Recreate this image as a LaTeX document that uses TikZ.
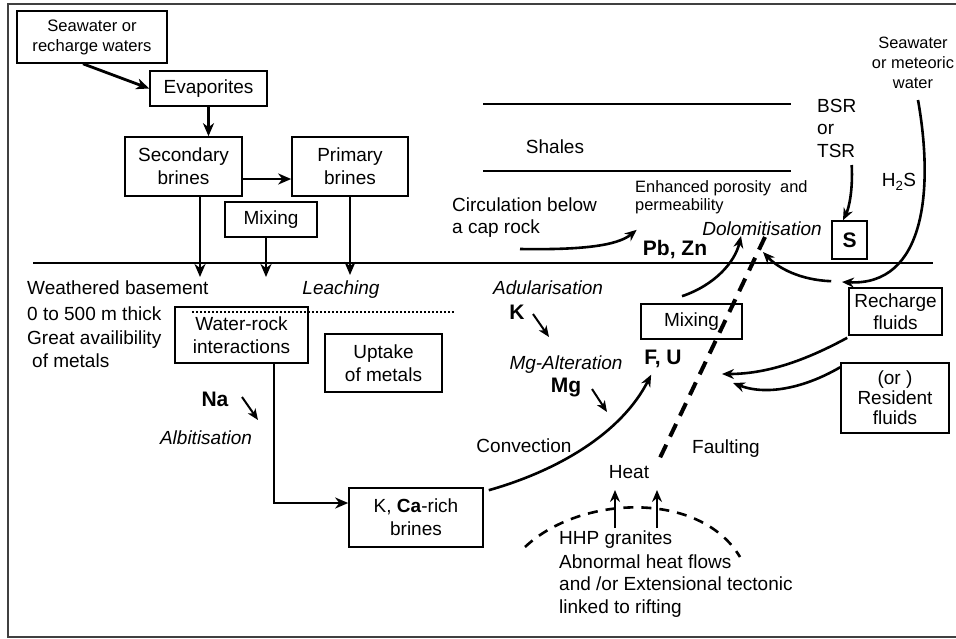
\documentclass[tikz,border=0pt]{standalone}
\usepackage{fontspec}
\setmainfont{Liberation Sans}
\usetikzlibrary{arrows.meta}
\newcommand\fsz[2]{\fontsize{#1}{#2}\selectfont}
\begin{document}
\begin{tikzpicture}[x=1pt,y=-1pt,
 box/.style={draw, line width=1.6pt, inner sep=0pt, align=center, font=\fsz{19}{23}},
 lbl/.style={inner sep=0pt, font=\fsz{19}{23}, text height=13.6pt, text depth=0pt},
 sml/.style={inner sep=0pt, font=\fsz{16.4}{20}, text height=11.8pt, text depth=0pt},
 bld/.style={inner sep=0pt, font=\fsz{21}{25}\bfseries, text height=15pt, text depth=0pt},
 itl/.style={lbl, font=\fsz{19}{23}\itshape},
 arr/.style={line width=2.8pt, -{Stealth[length=13pt,width=11pt,inset=4pt]}},
 carr/.style={line width=2.6pt, -{Stealth[length=12pt,width=10pt,inset=4pt]}},
 sarr/.style={line width=2pt, -{Stealth[length=11pt,width=9pt,inset=3pt]}},
 thin/.style={line width=1.8pt}]
\useasboundingbox (0,0) rectangle (956,638);
\fill[white] (0,0) rectangle (956,638);
\draw[line width=1.5pt, black!75] (8,4) rectangle (962,637);

% strata lines
\draw[thin] (483,104) -- (791,104);
\draw[thin] (483,171) -- (791,171);
\draw[thin] (33,263) -- (933,263);
\draw[line width=1.8pt, dash pattern=on 1.8pt off 2.2pt] (192,312) -- (455,312);

% boxes
\node[box, minimum width=150pt, minimum height=52pt, font=\fsz{16.6}{20}] (sea) at (92,37) {Seawater or\\recharge waters};
\node[box, minimum width=117pt, minimum height=35pt] (evap) at (208.5,88.5) {Evaporites};
\node[box, minimum width=117pt, minimum height=59pt] (sec) at (183.5,166.5) {Secondary\\brines};
\node[box, minimum width=116pt, minimum height=59pt] (prim) at (350,166.5) {Primary\\brines};
\node[box, minimum width=92pt, minimum height=35pt] (mixa) at (271,219.5) {Mixing};
\node[box, minimum width=133pt, minimum height=56pt] (wr) at (241.5,335) {Water-rock\\interactions};
\node[box, minimum width=117pt, minimum height=58pt] (upt) at (383.5,363) {Uptake\\of metals};
\node[box, minimum width=134pt, minimum height=59pt] (kca) at (416,517.5) {K, \textbf{Ca}-rich\\brines};
\node[box, minimum width=101pt, minimum height=35pt] (mixb) at (691.5,321.5) {Mixing};
\node[box, minimum width=35pt, minimum height=38pt, font=\fsz{21}{25}\bfseries] (sbox) at (849.5,240) {S};
\node[box, minimum width=93pt, minimum height=47pt, font=\fsz{19}{22}] (rech) at (895.5,311.5) {Recharge\\fluids};
\node[box, minimum width=108pt, minimum height=70pt, font=\fsz{19}{20}] (res) at (895,398) {(or )\\Resident\\fluids};

% free texts
\node[lbl, anchor=west] (wb1) at (27,288) {Weathered basement};
\node[lbl, anchor=west] (wb2) at (27,314) {0 to 500 m thick};
\node[lbl, anchor=west] (wb3) at (27,338) {Great availibility};
\node[lbl, anchor=west] (wb4) at (32,361) {of metals};
\node[itl] (leach) at (341,288) {Leaching};
\node[bld] (na) at (215,399) {Na};
\node[itl] (albi) at (206,438) {Albitisation};
\node[itl] (adul) at (548,288) {Adularisation};
\node[bld] (k) at (517,312) {K};
\node[itl] (mgalt) at (566,363) {Mg-Alteration};
\node[bld] (mg) at (566,385) {Mg};
\node[bld] (fu) at (663,357) {F, U};
\node[lbl] (conv) at (524,446) {Convection};
\node[lbl] (fault) at (726,447) {Faulting};
\node[lbl] (heat) at (629,472) {Heat};
\node[itl] (dol) at (762,229) {Dolomitisation};
\node[bld] (pbzn) at (675,248) {Pb, Zn};
\node[lbl, anchor=west] (circ) at (452,205) {Circulation below};
\node[lbl, anchor=west] (cap) at (452,227) {a cap rock};
\node[sml, anchor=west] (enh) at (635,187) {Enhanced porosity~ and};
\node[sml, anchor=west] (perm) at (635,205) {permeability};
\node[lbl] (shales) at (555,147) {Shales};
\node[lbl, anchor=west] (bsr) at (817,106) {BSR};
\node[lbl, anchor=west] (or) at (817,128) {or};
\node[lbl, anchor=west] (tsr) at (817,151) {TSR};
\node[sml] (sw1) at (913,43) {Seawater};
\node[sml] (sw2) at (913,63) {or meteoric};
\node[sml] (sw3) at (913,83) {water};
\node[lbl] (h2s) at (899,180) {H\textsubscript{2}S};
\node[lbl, anchor=west] (hhp1) at (559,538) {HHP granites};
\node[lbl, anchor=west] (hhp2) at (559,562) {Abnormal heat flows};
\node[lbl, anchor=west] (hhp3) at (559,584) {and /or Extensional tectonic};
\node[lbl, anchor=west] (hhp4) at (559,607) {linked to rifting};

% left flow connectors
\draw[arr] ([xshift=-9pt]sea.south) -- (evap.west);
\draw[arr] (evap.south) -- (evap.south |- sec.north);
\draw[arr] ([yshift=-12.5pt]sec.east) -- ([yshift=-12.5pt]prim.west);
\coordinate (d1) at (200,277);
\coordinate (d2) at (266,277);
\coordinate (d3) at (350,275);
\draw[arr] (sec.south -| d1) -- (d1);
\draw[arr] (mixa.south -| d2) -- (d2);
\draw[arr] (prim.south) -- (d3);
\draw[arr] ([xshift=32.5pt]wr.south) |- ([yshift=14.5pt]kca.west);

% small element arrows
\coordinate (na0) at (242,397); \coordinate (na1) at (258,420);
\draw[sarr] (na0) -- (na1);
\coordinate (k0) at (533,314); \coordinate (k1) at (549,337);
\draw[sarr] (k0) -- (k1);
\coordinate (mg0) at (592,389); \coordinate (mg1) at (607,412);
\draw[sarr] (mg0) -- (mg1);

% curves
\draw[carr] ([xshift=5pt,yshift=-3pt]kca.north east) .. controls (560,470) and (622,432) .. ([xshift=7pt,yshift=-10pt]fu.south west);
\draw[carr] ([xshift=-9.5pt,yshift=7pt]mixb.north) .. controls (715,285) and (735,262) .. ([xshift=-21pt]dol.south);
\coordinate (circ0) at (520,249);
\draw[carr] (circ0) .. controls (580,250) and (617,246) .. ([xshift=-6pt,yshift=10.5pt]pbzn.north west);
\draw[carr] ([xshift=15.5pt,yshift=-7pt]tsr.south) .. controls (853,190) and (849,208) .. ([xshift=-6.5pt]sbox.north);
\coordinate (h0) at (918,100);
\coordinate (h1) at (842,282);
\draw[carr] (h0) .. controls (934,190) and (925,286) .. (h1);
\coordinate (ft) at (763,252);
\draw[carr] ([xshift=-17pt,yshift=6pt]rech.north west) .. controls (800,280) and (778,268) .. (ft);
\coordinate (r1) at (722,374);
\draw[carr] ([xshift=-1pt,yshift=-2pt]rech.south west) .. controls (810,358) and (770,374) .. (r1);
\coordinate (r2) at (733,383);
\draw[carr] ([yshift=-5pt]res.north west) .. controls (810,385) and (770,397) .. (r2);

% fault
\coordinate (fa) at (765,237);
\coordinate (fb) at (658,462);
\draw[line width=4pt, dash pattern=on 14pt off 9pt] (fa) -- (fb);

% heat source
\draw[line width=2.6pt, dash pattern=on 10pt off 8pt] (525,547) .. controls (580,495) and (700,490) .. (740,557);
\coordinate (ha0) at (615,528); \coordinate (ha1) at (615,490);
\coordinate (hb0) at (657,528); \coordinate (hb1) at (657,490);
\draw[carr] (ha0) -- (ha1);
\draw[carr] (hb0) -- (hb1);
\end{tikzpicture}
\end{document}
